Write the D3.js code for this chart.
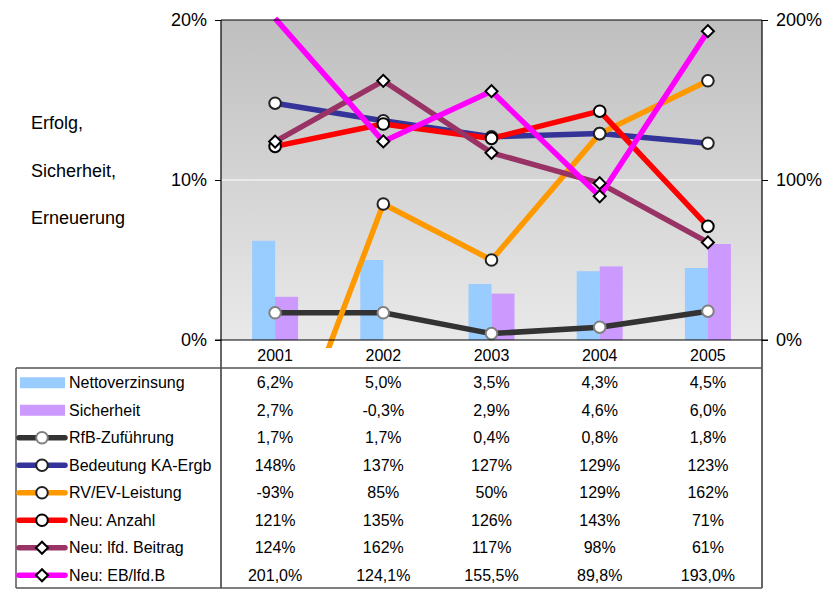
<!DOCTYPE html>
<html>
<head>
<meta charset="utf-8">
<script src="https://cdn.jsdelivr.net/npm/d3@7"></script>
<style>
    body { margin: 0; background: #fff; }
    svg { font-family: "Liberation Sans", Arial, sans-serif; }
    .axis path { display: none; }
    .axis line { stroke: #000; }
    .axis text { font-size: 18px; fill: #000; }
    .cellText { font-size: 16px; fill: #000; }
</style>
</head>
<body>
<svg id="chart"></svg>
<script>
    // data
    var years = ["2001", "2002", "2003", "2004", "2005"];
    var nettoverzinsung = [6.2, 5.0, 3.5, 4.3, 4.5];
    var sicherheit = [2.7, -0.3, 2.9, 4.6, 6.0];
    var rfbZufuehrung = [1.7, 1.7, 0.4, 0.8, 1.8];
    var bedeutungKA = [148, 137, 127, 129, 123];
    var rvevLeistung = [-93, 85, 50, 129, 162];
    var neuAnzahl = [121, 135, 126, 143, 71];
    var neuBeitrag = [124, 162, 117, 98, 61];
    var neuEB = [201.0, 124.1, 155.5, 89.8, 193.0];
    var leftTicks = [0, 10, 20];
    var rightTicks = [0, 100, 200];
    var sideTitle = ["Erfolg,", "Sicherheit,", "Erneuerung"];

    var width = 832, height = 589;
    var plot = {left: 221, right: 762, top: 20, bottom: 340};
    var table = {left: 16, headerBottom: 368, bottom: 588};

    var svg = d3.select("#chart")
        .attr("width", width)
        .attr("height", height);

    var x = d3.scaleBand()
        .domain(years)
        .range([plot.left, plot.right]);

    var yL = d3.scaleLinear()
        .domain([0, 20])
        .range([plot.bottom, plot.top]);

    var yR = d3.scaleLinear()
        .domain([0, 200])
        .range([plot.bottom, plot.top]);

    var barSeries = [
        {name: "Nettoverzinsung", values: nettoverzinsung, color: "#99ccff", fmt: d3.format(".1f")},
        {name: "Sicherheit", values: sicherheit, color: "#cc99ff", fmt: d3.format(".1f")}
    ];

    var lineSeries = [
        {name: "RfB-Zuführung", values: rfbZufuehrung, color: "#333333", scale: yL, marker: "circle", mstroke: "#808080", fmt: d3.format(".1f")},
        {name: "Bedeutung KA-Ergb", values: bedeutungKA, color: "#333399", scale: yR, marker: "circle", mstroke: "#222", fmt: d3.format(".0f")},
        {name: "RV/EV-Leistung", values: rvevLeistung, color: "#ff9900", scale: yR, marker: "circle", mstroke: "#222", fmt: d3.format(".0f")},
        {name: "Neu: Anzahl", values: neuAnzahl, color: "#ff0000", scale: yR, marker: "circle", mstroke: "#000", fmt: d3.format(".0f")},
        {name: "Neu: lfd. Beitrag", values: neuBeitrag, color: "#993366", scale: yR, marker: "diamond", mstroke: "#000", fmt: d3.format(".0f")},
        {name: "Neu: EB/lfd.B", values: neuEB, color: "#ff00ff", scale: yR, marker: "diamond", mstroke: "#000", fmt: d3.format(".1f")}
    ];

    var defs = svg.append("defs");
    var grad = defs.append("linearGradient")
        .attr("id", "bg")
        .attr("x1", 0).attr("y1", 0).attr("x2", 0).attr("y2", 1);
    grad.append("stop").attr("offset", "0%").attr("stop-color", "#bfbfbf");
    grad.append("stop").attr("offset", "100%").attr("stop-color", "#e9e9e9");

    defs.append("clipPath").attr("id", "clipBars")
        .append("rect")
        .attr("x", plot.left).attr("y", plot.top)
        .attr("width", plot.right - plot.left).attr("height", plot.bottom - plot.top);

    defs.append("clipPath").attr("id", "clipLines")
        .append("rect")
        .attr("x", plot.left).attr("y", plot.top - 4)
        .attr("width", plot.right - plot.left).attr("height", plot.bottom - plot.top + 12);

    // plot background
    svg.append("rect")
        .attr("x", plot.left).attr("y", plot.top)
        .attr("width", plot.right - plot.left).attr("height", plot.bottom - plot.top)
        .attr("fill", "url(#bg)");

    // gridline
    svg.append("line")
        .attr("x1", plot.left).attr("x2", plot.right)
        .attr("y1", yL(10)).attr("y2", yL(10))
        .attr("stroke", "#f2f2f2").attr("stroke-width", 1.5);

    // bars
    var inner = d3.scaleBand()
        .domain(barSeries.map(d => d.name))
        .range([-23, 23]);

    var barG = svg.append("g").attr("clip-path", "url(#clipBars)");
    barSeries.forEach(function(s) {
        barG.selectAll(null)
            .data(s.values)
            .enter().append("rect")
            .attr("x", (d, i) => x(years[i]) + x.bandwidth() / 2 + inner(s.name))
            .attr("width", inner.bandwidth())
            .attr("y", d => yL(Math.max(0, d)))
            .attr("height", d => Math.abs(yL(d) - yL(0)))
            .attr("fill", s.color);
    });

    var cx = (d, i) => x(years[i]) + x.bandwidth() / 2;
    var diamond = d3.symbol(d3.symbolSquare, 72);

    function drawMarker(sel, s) {
        if (s.marker === "circle") {
            sel.append("circle")
                .attr("r", 5.8)
                .attr("fill", "#fff")
                .attr("stroke", s.mstroke)
                .attr("stroke-width", 2);
        } else {
            sel.append("path")
                .attr("d", diamond)
                .attr("transform", "rotate(45)")
                .attr("fill", "#fff")
                .attr("stroke", s.mstroke)
                .attr("stroke-width", 2);
        }
    }

    // lines, markers outside the plot area are not shown
    var lineG = svg.append("g").attr("clip-path", "url(#clipLines)");
    var markG = svg.append("g");
    lineSeries.forEach(function(s) {
        var line = d3.line()
            .x(cx)
            .y(d => s.scale(d));
        lineG.append("path")
            .datum(s.values)
            .attr("d", line)
            .attr("fill", "none")
            .attr("stroke", s.color)
            .attr("stroke-width", 5.5)
            .attr("stroke-linejoin", "round");
        var g = markG.append("g");
        s.values.forEach(function(v, i) {
            var py = s.scale(v);
            if (py > plot.bottom || py < plot.top) return;
            var m = g.append("g").attr("transform", "translate(" + cx(v, i) + "," + py + ")");
            drawMarker(m, s);
        });
    });

    // axes
    svg.append("g")
        .attr("class", "axis")
        .attr("transform", "translate(" + plot.left + ",0)")
        .call(d3.axisLeft(yL).tickValues(leftTicks).tickSize(6).tickPadding(8).tickFormat(d => d + "%"));

    svg.append("g")
        .attr("class", "axis")
        .attr("transform", "translate(" + plot.right + ",0)")
        .call(d3.axisRight(yR).tickValues(rightTicks).tickSize(6).tickPadding(8).tickFormat(d => d + "%"));

    // frame lines
    var frame = svg.append("g").attr("stroke", "#000").attr("stroke-width", 1.2);
    frame.append("line").attr("x1", plot.left).attr("x2", plot.right).attr("y1", plot.top).attr("y2", plot.top);
    frame.append("line").attr("x1", plot.left).attr("x2", plot.left).attr("y1", plot.top).attr("y2", table.bottom);
    frame.append("line").attr("x1", plot.right).attr("x2", plot.right).attr("y1", plot.top).attr("y2", table.bottom);
    frame.append("line").attr("x1", plot.left - 6).attr("x2", plot.right + 6).attr("y1", plot.bottom).attr("y2", plot.bottom);
    var tframe = svg.append("g").attr("stroke", "#555").attr("stroke-width", 1.5);
    tframe.append("line").attr("x1", table.left).attr("x2", plot.right).attr("y1", table.headerBottom).attr("y2", table.headerBottom);
    tframe.append("line").attr("x1", table.left).attr("x2", plot.right).attr("y1", table.bottom).attr("y2", table.bottom);
    tframe.append("line").attr("x1", table.left).attr("x2", table.left).attr("y1", table.headerBottom).attr("y2", table.bottom);

    // side title
    svg.selectAll(".side")
        .data(sideTitle)
        .enter().append("text")
        .attr("class", "side")
        .attr("x", 31)
        .attr("y", (d, i) => 123 + i * 47.5)
        .attr("dy", "0.35em")
        .style("font-size", "18px")
        .text(d => d);

    // table header years
    svg.selectAll(".year")
        .data(years)
        .enter().append("text")
        .attr("class", "cellText")
        .attr("x", (d, i) => cx(d, i))
        .attr("y", 355)
        .attr("dy", "0.35em")
        .attr("text-anchor", "middle")
        .text(d => d);

    // table rows
    var rows = barSeries.map(s => Object.assign({type: "bar"}, s))
        .concat(lineSeries.map(s => Object.assign({type: "line"}, s)));
    var rowH = (table.bottom - table.headerBottom) / rows.length;

    rows.forEach(function(s, r) {
        var yc = table.headerBottom + rowH * (r + 0.5) + 1;
        var key = svg.append("g").attr("transform", "translate(0," + yc + ")");
        if (s.type === "bar") {
            key.append("rect")
                .attr("x", 20).attr("y", -5.5)
                .attr("width", 45).attr("height", 11)
                .attr("fill", s.color);
        } else {
            key.append("line")
                .attr("x1", 19).attr("x2", 65)
                .attr("stroke", s.color).attr("stroke-width", 5.5)
                .attr("stroke-linecap", "round");
            var m = key.append("g").attr("transform", "translate(42,0)");
            drawMarker(m, s);
        }
        key.append("text")
            .attr("class", "cellText")
            .attr("x", 69)
            .attr("dy", "0.35em")
            .text(s.name);
        key.selectAll(null)
            .data(s.values)
            .enter().append("text")
            .attr("class", "cellText")
            .attr("x", (d, i) => cx(d, i))
            .attr("dy", "0.35em")
            .attr("text-anchor", "middle")
            .text(d => s.fmt(d).replace("\u2212", "-").replace(".", ",") + "%");
    });
</script>
</body>
</html>
